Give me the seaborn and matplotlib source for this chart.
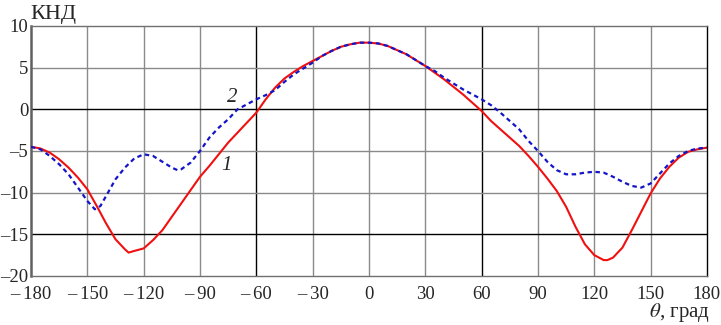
import numpy as np
import pandas as pd
import matplotlib
matplotlib.use("Agg")
import matplotlib.pyplot as plt
import seaborn as sns

# curve 1 (solid red), angles in degrees
theta1 = [-180, -175, -170, -165, -160, -155, -150, -145, -140, -135, -130, -128, -125, -120,
          -115, -110, -105, -100, -95, -90, -85, -80, -75, -70, -65, -60, -55, -50, -45, -40,
          -35, -30, -25, -20, -15, -10, -5, 0, 5, 10, 15, 20, 25, 30, 35, 40, 45, 50, 55, 60,
          65, 70, 75, 80, 85, 90, 95, 100, 105, 110, 115, 120, 125, 127, 130, 135, 140, 145,
          150, 155, 160, 165, 170, 175, 180]
knd1 = [-4.5, -4.7, -5.2, -6.0, -7.0, -8.2, -9.6, -11.6, -13.7, -15.6, -16.8, -17.2, -17.0, -16.7,
        -15.7, -14.5, -12.9, -11.3, -9.7, -8.1, -6.8, -5.4, -4.0, -2.8, -1.6, -0.4, 1.2, 2.6, 3.7, 4.5,
        5.2, 5.8, 6.4, 7.0, 7.5, 7.8, 8.0, 8.0, 7.9, 7.6, 7.1, 6.6, 5.9, 5.2, 4.4, 3.6, 2.7, 1.8, 0.8, -0.2,
        -1.4, -2.4, -3.4, -4.4, -5.6, -6.9, -8.3, -9.8, -11.7, -14.1, -16.2, -17.5, -18.1, -18.1, -17.8,
        -16.6, -14.5, -12.3, -10.1, -8.3, -6.9, -5.8, -5.1, -4.8, -4.6]

# curve 2 (dashed blue)
theta2 = [-180, -175, -170, -165, -160, -155, -150, -146, -143, -140, -135, -130, -125, -120,
          -115, -110, -105, -102, -100, -95, -90, -85, -80, -75, -70, -65, -60, -55, -50, -45,
          -40, -35, -30, -25, -20, -15, -10, -5, 0, 5, 10, 15, 20, 25, 30, 35, 40, 45, 50, 55,
          60, 65, 70, 75, 80, 85, 90, 95, 100, 105, 110, 115, 120, 125, 130, 135, 140, 145, 150,
          155, 160, 165, 170, 175, 180]
knd2 = [-4.5, -4.8, -5.6, -6.6, -7.8, -9.4, -11.0, -12.0, -11.6, -10.4, -8.4, -7.0, -5.9, -5.4,
        -5.6, -6.3, -7.0, -7.3, -7.2, -6.4, -5.0, -3.4, -2.2, -1.2, 0.0, 0.6, 1.2, 1.7, 2.3, 3.3,
        4.2, 4.9, 5.6, 6.4, 7.0, 7.5, 7.8, 8.0, 8.0, 7.9, 7.6, 7.1, 6.6, 5.9, 5.2, 4.6, 3.8, 3.1, 2.4, 1.8,
        1.2, 0.5, -0.4, -1.4, -2.4, -3.8, -5.0, -6.3, -7.3, -7.8, -7.8, -7.6, -7.5, -7.6, -8.1, -8.7,
        -9.2, -9.4, -8.9, -7.7, -6.5, -5.6, -5.0, -4.7, -4.6]

xticks = [-180, -150, -120, -90, -60, -30, 0, 30, 60, 90, 120, 150, 180]
yticks = [-20, -15, -10, -5, 0, 5, 10]

df1 = pd.DataFrame({"theta": theta1, "knd": knd1})
df2 = pd.DataFrame({"theta": theta2, "knd": knd2})

sns.set_style("white")
plt.rcParams['font.family'] = ['Liberation Serif', 'DejaVu Serif']
plt.rcParams['mathtext.fontset'] = 'stix'

fig = plt.figure(figsize=(7.21, 3.25), dpi=100)
ax = fig.add_axes([0.043, 0.151, 0.9375, 0.769])

# grid, a few lines drawn dark
for x in xticks[1:-1]:
    dark = x in (-60, 60)
    ax.axvline(x, color='black' if dark else '#8a8a8a', lw=1.0, zorder=1)
for y in yticks[1:-1]:
    dark = y in (0, -15)
    ax.axhline(y, color='black' if dark else '#8a8a8a', lw=1.0, zorder=1)

sns.lineplot(data=df1, x="theta", y="knd", ax=ax, color='#f01010', lw=1.5, zorder=3)
sns.lineplot(data=df2, x="theta", y="knd", ax=ax, color='#1515c8', lw=1.6,
             linestyle=(0, (2.0, 1.6)), zorder=4)

ax.set_xlim(-180, 180)
ax.set_ylim(-20, 10)
ax.set_xticks(xticks)
ax.set_xticklabels([('\u2013\u2009%d' % -v) if v < 0 else str(v) for v in xticks])
ax.set_yticks(yticks)
ax.set_yticklabels([('\u2013%d' % -v) if v < 0 else str(v) for v in yticks])
ax.tick_params(axis='x', length=0, labelsize=13.5, pad=7)
ax.tick_params(axis='y', length=0, labelsize=13.5, pad=2)
ax.set_xlabel('')
ax.set_ylabel('')

for s in ['top', 'bottom']:
    ax.spines[s].set_color('#707070')
    ax.spines[s].set_linewidth(1.0)
ax.spines['left'].set_color('#606060')
ax.spines['left'].set_linewidth(1.8)
ax.spines['right'].set_color('black')
ax.spines['right'].set_linewidth(1.0)

ax.text(-76, -6.8, '1', fontsize=15, style='italic', ha='center', va='center')
ax.text(-73, 1.4, '2', fontsize=15, style='italic', ha='center', va='center')

fig.text(30 / 721, 1 - 14 / 325, 'КНД', fontsize=16, ha='left', va='center')
fig.text(710 / 721, 1 - 312 / 325, r'$\theta$, град', fontsize=15, ha='right', va='center')

fig.savefig('out.png', dpi=100)
